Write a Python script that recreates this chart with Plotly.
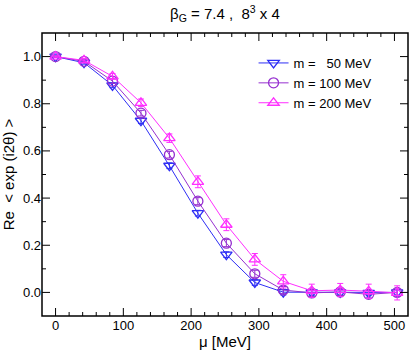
import plotly.graph_objects as go

mu = [0, 42, 84, 126, 168, 210, 252, 294, 336, 378, 420, 462, 504]
m50 = [1.0, 0.974, 0.878, 0.728, 0.537, 0.336, 0.160, 0.042, 0.001, 0.0, 0.0, -0.002, 0.0]
m100 = [1.0, 0.980, 0.896, 0.760, 0.584, 0.387, 0.209, 0.079, 0.010, -0.002, 0.002, -0.008, 0.0]
m200 = [1.0, 0.984, 0.916, 0.804, 0.654, 0.469, 0.287, 0.140, 0.047, 0.007, 0.010, 0.005, -0.002]
e50 = [0.003, 0.006, 0.010, 0.012, 0.012, 0.012, 0.012, 0.012, 0.012, 0.012, 0.012, 0.012, 0.012]
e100 = [0.003, 0.006, 0.010, 0.012, 0.014, 0.015, 0.015, 0.015, 0.015, 0.015, 0.015, 0.015, 0.015]
e200 = [0.003, 0.008, 0.012, 0.016, 0.018, 0.025, 0.025, 0.025, 0.028, 0.028, 0.028, 0.030, 0.030]
names = ["m =\u00a0\u00a0\u00a050 MeV", "m = 100 MeV", "m = 200 MeV"]
x_major = [0, 100, 200, 300, 400, 500]
x_minor = list(range(-20, 521, 20))
y_major = [0.0, 0.2, 0.4, 0.6, 0.8, 1.0]
y_minor = [round(-0.1 + 0.1 * i, 1) for i in range(13)]

colors = ["#2e2ef5", "#9630d0", "#ff2eff"]
symbols = ["triangle-down-open", "circle-open", "triangle-up-open"]

fig = go.Figure()
for y, e, n, c, s in zip([m50, m100, m200], [e50, e100, e200], names, colors, symbols):
    fig.add_trace(go.Scatter(
        x=mu, y=y, name=n, mode="lines+markers",
        line=dict(color=c, width=1),
        marker=dict(symbol=s, size=10, color=c, line=dict(width=1.3, color=c)),
        error_y=dict(type="data", array=e, visible=True, color=c, thickness=1, width=3),
    ))

# frame
fig.add_shape(type="rect", xref="paper", yref="paper", x0=0, x1=1, y0=0, y1=1,
              line=dict(color="black", width=1.5), layer="above")
# ticks on all four sides
for xv in x_minor:
    if xv <= -20 or xv >= 520:
        continue
    L = 8 if xv in x_major else 4
    for anchor, sgn in ((0, 1), (1, -1)):
        fig.add_shape(type="line", xref="x", yref="paper", ysizemode="pixel", yanchor=anchor,
                      x0=xv, x1=xv, y0=0, y1=sgn * L, line=dict(color="black", width=1))
for yv in y_minor:
    if yv <= -0.1 or yv >= 1.1:
        continue
    L = 8 if yv in y_major else 4
    for anchor, sgn in ((0, 1), (1, -1)):
        fig.add_shape(type="line", xref="paper", yref="y", xsizemode="pixel", xanchor=anchor,
                      x0=0, x1=sgn * L, y0=yv, y1=yv, line=dict(color="black", width=1))

fig.update_layout(
    width=409, height=351,
    margin=dict(l=42, r=1, t=33, b=35),
    paper_bgcolor="white", plot_bgcolor="white",
    font=dict(family="Liberation Sans, Arial, sans-serif", size=13, color="black"),
    title=dict(text="β<sub>G</sub> = 7.4 ,  8<sup>3</sup> x 4", x=0.55, xanchor="center",
               y=0.96, yanchor="middle", font=dict(size=15)),
    legend=dict(x=0.578, y=0.947, xanchor="left", yanchor="top", bgcolor="rgba(0,0,0,0)",
                font=dict(size=13), tracegroupgap=0),
)
fig.update_xaxes(range=[-20, 520], tickvals=x_major, ticks="", showline=False,
                 showgrid=False, zeroline=False,
                 title=dict(text="μ [MeV]", font=dict(size=15), standoff=2))
fig.update_yaxes(range=[-0.1, 1.1], tickvals=y_major, tickformat=".1f", ticks="",
                 showline=False, showgrid=False, zeroline=False,
                 title=dict(text="Re  < exp (i2θ) >", font=dict(size=15), standoff=4))

fig.write_html("out.html", config={"displayModeBar": False},
               post_script="document.body.style.margin='0';document.body.style.overflow='hidden';")
